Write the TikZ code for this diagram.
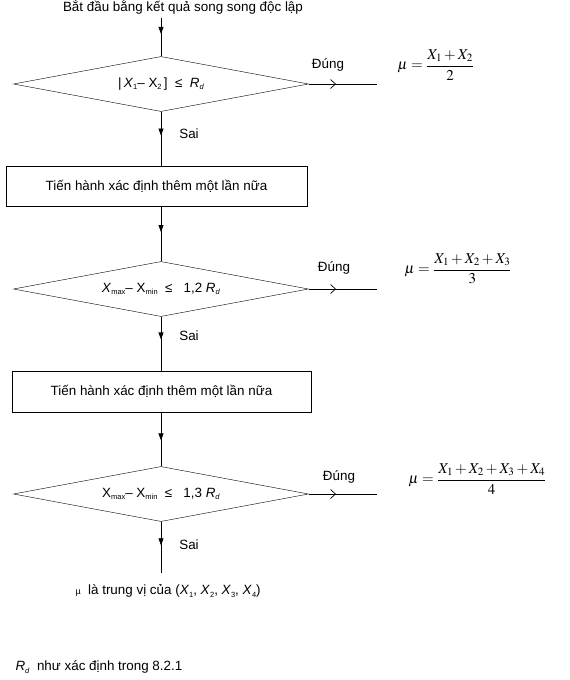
\documentclass[tikz,border=0pt]{standalone}
\usepackage{amsmath}
\usepackage{mathptmx}
\usepackage[no-math]{fontspec}
\setmainfont{Liberation Sans}
\usetikzlibrary{shapes.geometric,arrows.meta,decorations.markings}
\newcommand{\lowidx}[1]{\raisebox{-0.35ex}{\fontsize{7.5}{8}\selectfont #1}}

\begin{document}
\begin{tikzpicture}[x=1pt, y=-1pt, every node/.style={font=\fontsize{13.4}{16}\selectfont},
  decision/.style={draw, diamond, aspect=5.4, minimum width=295pt, minimum height=55pt, inner sep=0pt},
  process/.style={draw, rectangle, minimum width=301pt, minimum height=40pt},
  flow/.style={line width=0.7pt},
  midtip/.style={postaction={decorate}, decoration={markings, mark=at position #1 with {\arrow{Triangle[length=7pt,width=5pt]}}}},
  opentip/.style={postaction={decorate}, decoration={markings, mark=at position #1 with {\arrow{Straight Barb[length=5pt,width=9pt]}}}},
  formula/.style={anchor=west, font=\fontsize{15}{18}\selectfont},
  lbl/.style={inner sep=1pt}]
\useasboundingbox (0,0) rectangle (570,680);

\node (start) at (183,7) {Bắt đầu bằng kết quả song song độc lập};

\node[decision] (d1) at (161,84) {|\,\textit{X}\lowidx{1}– X\lowidx{2}\,]\ \ ≤\ \ \textit{R}\lowidx{\textit{d}}};
\node[process] (r1) at (156.5,186) {Tiến hành xác định thêm một lần nữa};
\node[decision] (d2) at (161,289) {\textit{X}\lowidx{max}– X\lowidx{min}\ \ ≤\ \ \ 1,2 \textit{R}\lowidx{\textit{d}}};
\node[process, minimum width=299pt, minimum height=41pt] (r2) at (161.5,391.5) {Tiến hành xác định thêm một lần nữa};
\node[decision] (d3) at (161,494) {X\lowidx{max}– X\lowidx{min}\ \ ≤\ \ \ 1,3 \textit{R}\lowidx{\textit{d}}};

\node[anchor=west] (res) at (72,591) {{\small µ}\ \ là trung vị của (\textit{X}\lowidx{1}, \textit{X}\lowidx{2}, \textit{X}\lowidx{3}, \textit{X}\lowidx{4})};
\node[anchor=west] (note) at (12,667) {\textit{R}\lowidx{\textit{d}}\ \ như xác định trong 8.2.1};

% ends of the true branches
\coordinate (e1) at (377,84);
\coordinate (e2) at (377,289);
\coordinate (e3) at (377,494);
\coordinate (stop) at (161,573);

\draw[flow, midtip=0.42] (d1.north |- start.south) -- (d1.north);
\draw[flow, midtip=0.44] (d1.south) -- node[lbl, pos=0.4, right=17pt] (no1) {Sai} (d1.south |- r1.north);
\draw[flow, midtip=0.47] (d2.north |- r1.south) -- (d2.north);
\draw[flow, midtip=0.42] (d2.south) -- node[lbl, pos=0.35, right=17pt] (no2) {Sai} (d2.south |- r2.north);
\draw[flow, midtip=0.52] (d3.north |- r2.south) -- (d3.north);
\draw[flow, midtip=0.46] (d3.south) -- node[lbl, pos=0.44, right=17pt] (no3) {Sai} (stop);

\draw[flow, opentip=0.4] (d1.east) -- (e1);
\draw[flow, opentip=0.4] (d2.east) -- (e2);
\draw[flow, opentip=0.4] (d3.east) -- (e3);

\node (yes1) at (328,65) {Đúng};
\node (yes2) at (334,268) {Đúng};
\node (yes3) at (339,477) {Đúng};

\node[formula] (f1) at (394,65) {$\mu=\dfrac{X_1+X_2}{2}$};
\node[formula] (f2) at (401,269) {$\mu=\dfrac{X_1+X_2+X_3}{3}$};
\node[formula] (f3) at (405,479) {$\mu=\dfrac{X_1+X_2+X_3+X_4}{4}$};
\end{tikzpicture}
\end{document}
